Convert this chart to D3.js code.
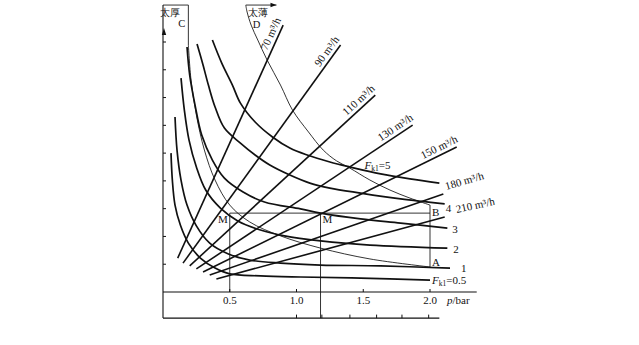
<!DOCTYPE html>
<html><head><meta charset="utf-8">
<script src="https://cdn.jsdelivr.net/npm/d3@7"></script>
<style>
html,body{margin:0;padding:0;background:#fff;}
svg{display:block;}
text{font-family:"Liberation Serif","DejaVu Serif",serif;fill:#111;}
</style></head><body>
<svg id="chart" width="639" height="345"></svg>
<script>
// ---------- data (p in bar, v in axis units) ----------
const xTicks = [0.5, 1.0, 1.5, 2.0];
const xTickLabels = ["0.5", "1.0", "1.5", "2.0"];
const yTicks = [1, 2, 3, 4, 5, 6, 7, 8, 9];
const frameTicks = [1.0, 1.19, 1.40, 1.60, 1.79, 1.99];

const curveFk05 = [[0.06,5.00],[0.07,4.03],[0.09,3.13],[0.13,2.41],[0.19,1.76],[0.28,1.22],[0.39,0.86],[0.50,0.65],[0.73,0.58],[1.03,0.54],[1.48,0.50],[2.00,0.43]];
const curveFk1 = [[0.09,6.30],[0.105,5.11],[0.135,4.03],[0.18,3.13],[0.25,2.38],[0.35,1.76],[0.49,1.37],[0.65,1.15],[0.88,1.04],[1.18,0.97],[1.63,0.94],[2.15,0.86]];
const curveFk2 = [[0.135,7.70],[0.16,6.55],[0.195,5.47],[0.25,4.50],[0.32,3.67],[0.43,3.02],[0.56,2.56],[0.73,2.23],[0.91,2.02],[1.18,1.84],[1.55,1.69],[2.13,1.58]];
const curveFk3 = [[0.18,8.82],[0.20,7.81],[0.24,6.73],[0.29,5.65],[0.37,4.75],[0.46,4.10],[0.60,3.60],[0.76,3.24],[1.03,2.99],[1.18,2.84],[1.48,2.63],[1.78,2.48],[2.13,2.30]];
const curveFk4 = [[0.255,8.93],[0.30,8.17],[0.34,7.45],[0.39,6.66],[0.46,5.90],[0.58,5.36],[0.69,4.93],[0.80,4.57],[0.95,4.21],[1.10,3.92],[1.25,3.74],[1.48,3.56],[1.78,3.35],[2.11,3.17]];
const curveFk5 = [[0.37,9.07],[0.44,8.24],[0.52,7.45],[0.58,6.80],[0.69,6.12],[0.82,5.58],[0.95,5.18],[1.08,4.93],[1.25,4.68],[1.40,4.50],[1.63,4.25],[1.85,4.07],[2.07,3.92]];
const curveEndLabels = ["0.5", "1", "2", "3", "4", "5"];

const bracketC = [[0.0,10.33],[0.19,10.33],[0.19,8.89]];
const lineC = [[0.19,8.89],[0.21,7.63],[0.25,6.37],[0.31,5.11],[0.39,4.03],[0.50,3.13],[0.65,2.52],[0.88,2.02],[1.18,1.58],[1.55,1.19],[2.00,0.90]];
const bracketD = [[0.62,10.33],[0.85,10.33]];
const lineD = [[0.62,10.33],[0.63,10.08],[0.66,9.61],[0.71,9.07],[0.78,8.35],[0.88,7.45],[0.97,6.55],[1.09,5.76],[1.20,5.11],[1.30,4.72],[1.40,4.46],[1.55,4.03],[1.70,3.67],[1.85,3.38],[2.00,3.13]];

const flowRates = [70, 90, 110, 130, 150, 180, 210];
const flowStartP = [0.11, 0.15, 0.20, 0.25, 0.30, 0.35, 0.40];
const flowStartV = [1.22, 1.04, 0.94, 0.83, 0.72, 0.61, 0.47];
const flowEndP = [0.90, 1.33, 1.59, 1.87, 2.20, 2.10, 2.11];
const flowEndV = [9.61, 8.89, 7.09, 6.01, 5.22, 3.53, 2.70];

const pointM1 = [0.5, 2.84];
const pointM2 = [1.18, 2.84];
const pointB = [2.0, 3.13];
const pointA = [2.0, 0.90];
const labelFk5At = [1.51, 4.43];
const frameBottomV = -0.94;
const frameTopV = 10.33;
const axisEndP = 2.35;
const frameEndP = 2.07;

// ---------- scales ----------
const x = d3.scaleLinear().domain([0, 2]).range([163, 430]);
const y = d3.scaleLinear().domain([0, 9]).range([292, 42]);

const svg = d3.select("#chart");
svg.append("rect").attr("width", 639).attr("height", 345).attr("fill", "#fff");
const g = svg.append("g");
const ink = "#111";

const smooth = d3.line().x(d => x(d[0])).y(d => y(d[1])).curve(d3.curveCatmullRom.alpha(0.5));
const straight = d3.line().x(d => x(d[0])).y(d => y(d[1]));

// ---------- frame & axes ----------
g.append("path").attr("d", straight([[0, frameTopV], [0, frameBottomV]])).attr("stroke", ink).attr("stroke-width", 1.1).attr("fill", "none");
g.append("path").attr("d", straight([[0, 0], [axisEndP, 0]])).attr("stroke", ink).attr("stroke-width", 1.1).attr("fill", "none");
g.append("path").attr("d", straight([[0, frameBottomV], [frameEndP, frameBottomV]])).attr("stroke", ink).attr("stroke-width", 1.1).attr("fill", "none");
const ax0 = x(0) + 1, ay0 = y(9.5);
g.append("path").attr("d", `M${ax0},${ay0} L${ax0 - 2.2},${ay0 + 7} L${ax0 + 2.2},${ay0 + 7} Z`).attr("fill", ink);

g.selectAll(".yt").data(yTicks).join("line")
  .attr("x1", x(0)).attr("x2", x(0) + 3).attr("y1", d => y(d)).attr("y2", d => y(d))
  .attr("stroke", ink).attr("stroke-width", 1);
g.selectAll(".xt").data(xTicks).join("line")
  .attr("x1", d => x(d)).attr("x2", d => x(d)).attr("y1", y(0)).attr("y2", y(0) - 3)
  .attr("stroke", ink).attr("stroke-width", 1);
g.selectAll(".ft").data(frameTicks).join("line")
  .attr("x1", d => x(d)).attr("x2", d => x(d)).attr("y1", y(frameBottomV)).attr("y2", y(frameBottomV) - 3.5)
  .attr("stroke", ink).attr("stroke-width", 1);
g.selectAll(".xl").data(xTicks).join("text")
  .attr("x", d => x(d)).attr("y", y(0) + 12).attr("text-anchor", "middle")
  .attr("font-size", 11).text((d, i) => xTickLabels[i]);
const pl = g.append("text").attr("x", x(2) + 17).attr("y", y(0) + 12).attr("font-size", 11);
pl.append("tspan").attr("font-style", "italic").text("p");
pl.append("tspan").text("/bar");

// ---------- construction lines ----------
const thin = 0.85;
g.append("path").attr("d", straight([pointM1, [pointM1[0], 0]])).attr("stroke", ink).attr("stroke-width", thin).attr("fill", "none");
g.append("path").attr("d", straight([pointM2, [pointM2[0], frameBottomV]])).attr("stroke", ink).attr("stroke-width", thin).attr("fill", "none");
g.append("path").attr("d", straight([pointM1, [pointB[0], pointM1[1]]])).attr("stroke", ink).attr("stroke-width", thin).attr("fill", "none");
g.append("path").attr("d", straight([pointB, pointA])).attr("stroke", ink).attr("stroke-width", thin).attr("fill", "none");

g.append("path").attr("d", straight(bracketC)).attr("stroke", ink).attr("stroke-width", thin).attr("fill", "none");
g.append("path").attr("d", smooth(lineC)).attr("stroke", ink).attr("stroke-width", thin).attr("fill", "none");
g.append("path").attr("d", straight(bracketD)).attr("stroke", ink).attr("stroke-width", thin).attr("fill", "none");
const dEnd = bracketD[1];
g.append("path").attr("d", `M${x(dEnd[0])},${y(dEnd[1])} l-6,-2.2 l0,4.4 Z`).attr("fill", ink);
g.append("path").attr("d", smooth(lineD)).attr("stroke", ink).attr("stroke-width", thin).attr("fill", "none");

// ---------- Fk1 curves ----------
const curves = [curveFk05, curveFk1, curveFk2, curveFk3, curveFk4, curveFk5];
curves.forEach(c => {
  g.append("path").attr("d", smooth(c)).attr("stroke", ink).attr("stroke-width", 1.7).attr("fill", "none");
});

// ---------- flow-rate lines ----------
flowRates.forEach((r, i) => {
  const x1 = x(flowStartP[i]), y1 = y(flowStartV[i]);
  const x2 = x(flowEndP[i]), y2 = y(flowEndV[i]);
  g.append("line").attr("x1", x1).attr("y1", y1).attr("x2", x2).attr("y2", y2)
    .attr("stroke", ink).attr("stroke-width", 1.6);
  const ang = Math.atan2(y2 - y1, x2 - x1);
  const deg = ang * 180 / Math.PI;
  let tx, ty, anchor, rot = deg;
  if (i < 5) {
    const nx = Math.sin(ang), ny = -Math.cos(ang);
    tx = x2 + 4 * nx + 4 * Math.cos(ang);
    ty = y2 + 4 * ny + 4 * Math.sin(ang);
    anchor = "end";
  } else {
    tx = x2 + (i === 5 ? 3 : 12);
    ty = y2 + (i === 5 ? -4 : -4);
    anchor = "start";
    rot = deg + 3;
  }
  g.append("text").attr("font-size", 11).attr("text-anchor", anchor)
    .attr("transform", `translate(${tx},${ty}) rotate(${rot})`)
    .text(`${r} m³/h`);
});

// ---------- labels ----------
function fkLabel(px, py, val) {
  const t = g.append("text").attr("x", px).attr("y", py).attr("font-size", 11);
  t.append("tspan").attr("font-style", "italic").text("F");
  t.append("tspan").attr("font-size", 7.5).attr("dy", 2).text("k1");
  t.append("tspan").attr("dy", -2).text("=" + val);
}
const e05 = curveFk05[curveFk05.length - 1];
fkLabel(x(e05[0]) + 2, y(e05[1]) + 4, curveEndLabels[0]);
fkLabel(x(labelFk5At[0]), y(labelFk5At[1]), curveEndLabels[5]);
const endOffsets = [null, [11, 4], [6, 5], [5, 5], [1, 8]];
[1, 2, 3, 4].forEach(k => {
  const e = curves[k][curves[k].length - 1];
  g.append("text").attr("x", x(e[0]) + endOffsets[k][0]).attr("y", y(e[1]) + endOffsets[k][1])
    .attr("font-size", 11).text(curveEndLabels[k]);
});

g.append("text").attr("x", x(pointM1[0]) - 2).attr("y", y(pointM1[1]) + 10).attr("text-anchor", "end").attr("font-size", 11).text("M");
g.append("text").attr("x", x(pointM2[0]) + 2).attr("y", y(pointM2[1]) + 10).attr("font-size", 11).text("M");
g.append("text").attr("x", x(pointB[0]) + 2).attr("y", y(pointB[1]) + 11).attr("font-size", 11).text("B");
g.append("text").attr("x", x(pointA[0]) + 2).attr("y", y(pointA[1]) - 1).attr("font-size", 11).text("A");

g.append("text").attr("x", x(0) - 3).attr("y", y(frameTopV) + 11)
  .attr("font-family", "'Noto Sans CJK SC', sans-serif").attr("font-size", 10).text("太厚");
g.append("text").attr("x", x(bracketC[1][0]) - 10).attr("y", y(frameTopV) + 22).attr("font-size", 10.5).text("C");
g.append("text").attr("x", x(bracketD[0][0]) + 2).attr("y", y(frameTopV) + 11)
  .attr("font-family", "'Noto Sans CJK SC', sans-serif").attr("font-size", 10).text("太薄");
g.append("text").attr("x", x(bracketD[0][0]) + 7).attr("y", y(frameTopV) + 23).attr("font-size", 10.5).text("D");
</script>
</body></html>
